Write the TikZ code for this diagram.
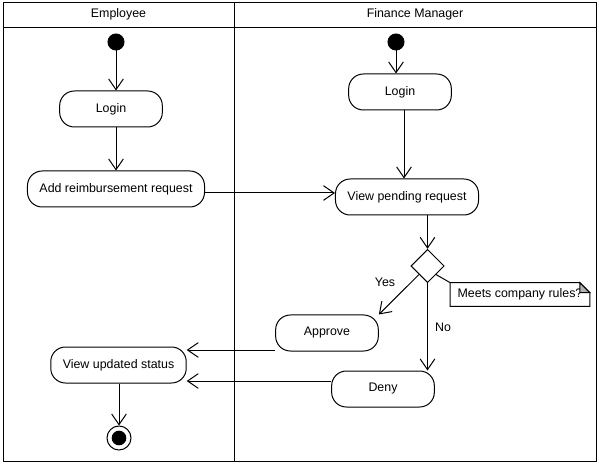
\documentclass[tikz,border=0pt]{standalone}
\usepackage{fontspec}
\setmainfont{Liberation Sans}
\usetikzlibrary{shapes.geometric,arrows.meta}
\newcommand\flow[2]{\draw[flow] (#1) -- (#2);}

\begin{document}
\begin{tikzpicture}[x=0.75pt,y=-0.75pt,line width=0.75pt]
\tikzstyle{every node}=[font=\fontsize{9.3}{11}\selectfont]
\tikzstyle{activity}=[draw,rectangle,rounded corners=11pt,minimum width=77pt,minimum height=27pt,inner xsep=9pt,fill=white]
\tikzstyle{initial}=[draw,circle,fill=black,inner sep=0pt,minimum size=12pt]
\tikzstyle{final}=[draw,circle,fill=white,inner sep=0pt,minimum size=18pt]
\tikzstyle{decision}=[draw,diamond,inner sep=0pt,minimum width=25pt,minimum height=25pt,fill=white]
\tikzstyle{note}=[inner xsep=3pt,inner ysep=0pt,minimum width=104pt,minimum height=17pt]
\tikzstyle{flow}=[-{Straight Barb[length=8pt,width=11pt]}]
\useasboundingbox (0,0) rectangle (599,466);
% swimlanes
\draw (3,3) rectangle (596,461);
\draw (3,28) -- (596,28);
\draw (234,3) -- (234,461);
\node (employee) at (118.5,14) {Employee};
\node (manager) at (415,14) {Finance Manager};
% employee lane
\node[initial] (start1) at (116,42) {};
\node[activity] (login1) at (111,109) {Login};
\node[activity] (addreq) at (116,189) {Add reimbursement request};
\node[activity] (status) at (118.5,365) {View updated status};
\node[final] (final) at (119,438) {};
\fill (final.center) circle (5.5pt);
% manager lane
\node[initial] (start2) at (396,42) {};
\node[activity] (login2) at (400,92) {Login};
\node[activity] (pending) at (407,197) {View pending request};
\node[decision] (check) at (427.5,266) {};
\node[activity] (approve) at (327,333) {Approve};
\node[activity] (deny) at (383,389) {Deny};
\node[note] (rules) at (520,294.5) {Meets company rules?};
\draw (rules.north west) -- ([xshift=-7.5pt]rules.north east) -- ([yshift=-7.5pt]rules.north east) -- (rules.south east) -- (rules.south west) -- cycle;
\draw[fill=black!30] ([xshift=-7.5pt]rules.north east) -- ([xshift=-7.5pt,yshift=-7.5pt]rules.north east) -- ([yshift=-7.5pt]rules.north east) -- cycle;
\node (yes) at (385,282) {Yes};
\node (no) at (443,327) {No};
% flows
\flow{start1}{start1 |- login1.north}
\flow{login1.south -| addreq.north}{addreq.north}
\flow{[yshift=-3pt]addreq.east}{[yshift=-3pt]addreq.east -| pending.west}
\flow{start2}{start2 |- login2.north}
\flow{[xshift=3pt]login2.south}{[xshift=3pt]login2.south |- pending.north}
\flow{pending.south -| check.north}{check.north}
\flow{check.south west}{approve.north east}
\flow{check.south}{check.south |- deny.north}
\draw (check.south east) -- (rules.north west);
\flow{[yshift=-12.75pt]approve.west}{[yshift=-12.75pt]approve.west -| status.east}
\flow{[yshift=6pt]deny.west}{[yshift=6pt]deny.west -| status.east}
\flow{status.south -| final.north}{final.north}
\end{tikzpicture}
\end{document}
